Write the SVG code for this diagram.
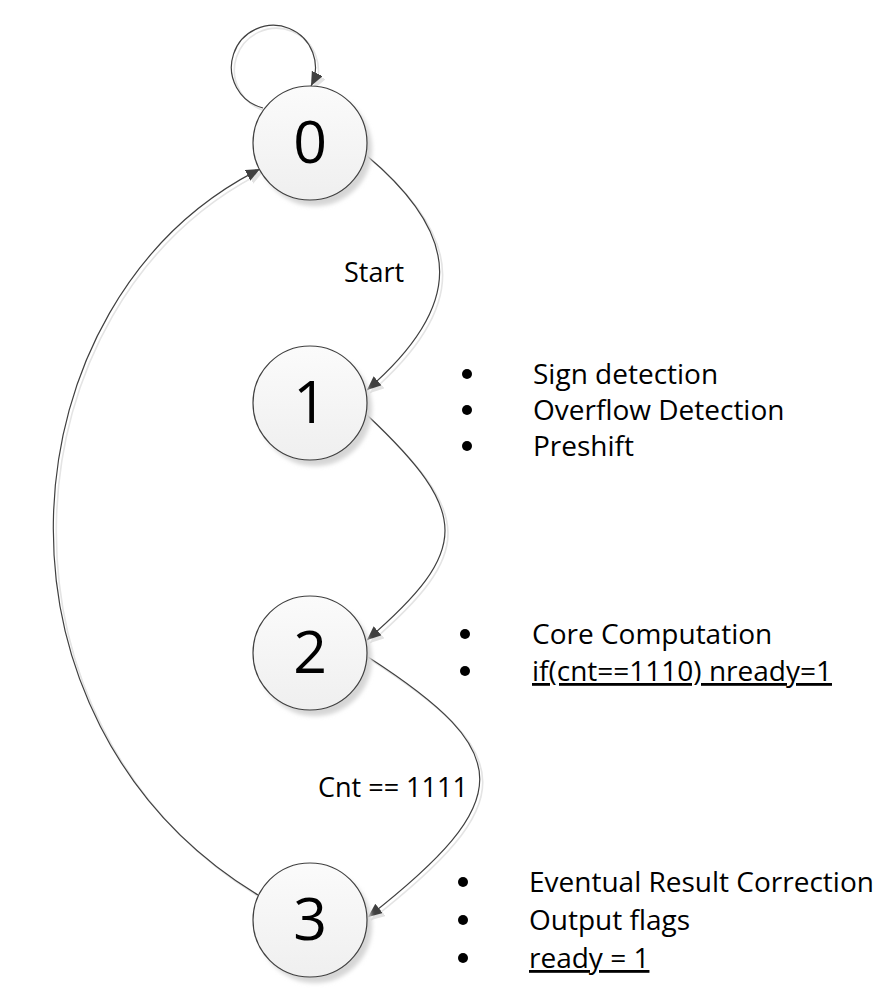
<svg xmlns="http://www.w3.org/2000/svg" width="894" height="1000" viewBox="0 0 894 1000">
  <defs>
    <linearGradient id="nodeFill" x1="0" y1="0" x2="0" y2="1">
      <stop offset="0" stop-color="#fbfbfb"/>
      <stop offset="1" stop-color="#efefef"/>
    </linearGradient>
    <filter id="soft" x="-20%" y="-20%" width="140%" height="140%">
      <feGaussianBlur stdDeviation="2"/>
    </filter>
    <marker id="arrow" markerUnits="userSpaceOnUse" markerWidth="16" markerHeight="14" refX="14" refY="6" orient="auto">
      <path d="M0,0 L14,6 L0,12 z" fill="#404040"/>
    </marker>
    <marker id="arrowShadow" markerUnits="userSpaceOnUse" markerWidth="16" markerHeight="14" refX="14" refY="6" orient="auto">
      <path d="M0,0 L14,6 L0,12 z" fill="#e2e2e2"/>
    </marker>
  </defs>
  <style>
    .node { fill: url(#nodeFill); stroke: #404040; stroke-width: 1.2; }
    .nshadow { fill: #d6d6d6; filter: url(#soft); }
    .digit { font-family: "Open Sans", "Liberation Sans", sans-serif; font-size: 59px; fill: #000; text-anchor: middle; }
    .edge { fill: none; stroke: #404040; stroke-width: 1.2; marker-end: url(#arrow); }
    .eshadow { fill: none; stroke: #e4e4e4; stroke-width: 1.6; marker-end: url(#arrowShadow); }
    .label { font-family: "Open Sans", "Liberation Sans", sans-serif; font-size: 27px; fill: #000; }
    .item { font-family: "Open Sans", "Liberation Sans", sans-serif; font-size: 28px; fill: #000; }
    .u { text-decoration: underline; }
    .bullet { fill: #000; }
  </style>

  <g id="connectors">
    <g id="connector-shadows" transform="translate(3,3)">
      <path class="eshadow" d="M263,108 A42,42 0 1 1 311,86"/>
      <path class="eshadow" d="M366,155 C464,237 464,306 367,390"/>
      <path class="eshadow" d="M367,415 C471,513 471,550 367,640"/>
      <path class="eshadow" d="M368,657 C517,753 517,800 368,917"/>
      <path class="eshadow" d="M258,895 C-30,720 0,300 260,169"/>
    </g>
    <path id="e0-0" class="edge" d="M263,108 A42,42 0 1 1 311,86"/>
    <path id="e0-1" class="edge" d="M366,155 C464,237 464,306 367,390"/>
    <path id="e1-2" class="edge" d="M367,415 C471,513 471,550 367,640"/>
    <path id="e2-3" class="edge" d="M368,657 C517,753 517,800 368,917"/>
    <path id="e3-0" class="edge" d="M258,895 C-30,720 0,300 260,169"/>
    <text class="label" x="344" y="282">Start</text>
    <text class="label" x="318" y="797">Cnt == 1111</text>
  </g>

  <g id="node0">
    <circle class="nshadow" cx="315" cy="149" r="57"/>
    <circle class="node" cx="310" cy="143" r="57"/>
    <text class="digit" x="310" y="163">0</text>
  </g>
  <g id="node1">
    <circle class="nshadow" cx="315" cy="409" r="57"/>
    <circle class="node" cx="310" cy="403" r="57"/>
    <text class="digit" x="310" y="423">1</text>
  </g>
  <g id="node2">
    <circle class="nshadow" cx="315" cy="659" r="57"/>
    <circle class="node" cx="310" cy="653" r="57"/>
    <text class="digit" x="310" y="673">2</text>
  </g>
  <g id="node3">
    <circle class="nshadow" cx="315" cy="926" r="57"/>
    <circle class="node" cx="310" cy="920" r="57"/>
    <text class="digit" x="310" y="940">3</text>
  </g>

  <g id="notes1">
    <circle class="bullet" cx="467" cy="374" r="5"/>
    <circle class="bullet" cx="467" cy="410" r="5"/>
    <circle class="bullet" cx="467" cy="446" r="5"/>
    <text class="item" x="533" y="384">Sign detection</text>
    <text class="item" x="533" y="420">Overflow Detection</text>
    <text class="item" x="533" y="456">Preshift</text>
  </g>
  <g id="notes2">
    <circle class="bullet" cx="465" cy="634" r="5"/>
    <circle class="bullet" cx="465" cy="671" r="5"/>
    <text class="item" x="532" y="644">Core Computation</text>
    <text class="item u" x="532" y="681">if(cnt==1110) nready=1</text>
  </g>
  <g id="notes3">
    <circle class="bullet" cx="463" cy="882" r="5"/>
    <circle class="bullet" cx="463" cy="920" r="5"/>
    <circle class="bullet" cx="463" cy="958" r="5"/>
    <text class="item" x="529" y="892">Eventual Result Correction</text>
    <text class="item" x="529" y="930">Output flags</text>
    <text class="item u" x="529" y="968">ready = 1</text>
  </g>
</svg>
